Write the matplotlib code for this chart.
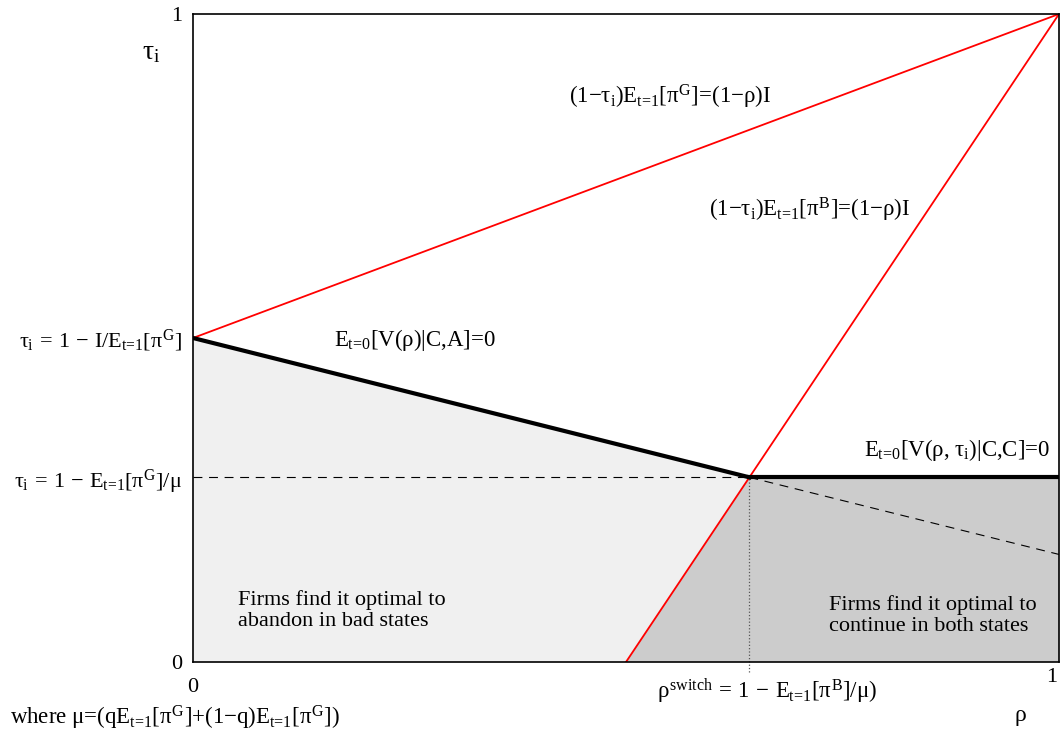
import numpy as np
import matplotlib.pyplot as plt

plt.rcParams['font.family'] = ['Liberation Serif', 'DejaVu Serif']
plt.rcParams['mathtext.fontset'] = 'custom'
plt.rcParams['mathtext.rm'] = 'Liberation Serif'
plt.rcParams['mathtext.it'] = 'Liberation Serif'
plt.rcParams['mathtext.bf'] = 'Liberation Serif:bold'

# key points of the diagram (rho, tau)
tau_a = 0.5          # tau_i = 1 - I/E[pi^G]
rho_b0 = 0.5         # where the pi^B line meets tau = 0
rho_switch = 0.6425
tau_switch = 0.285   # tau_i = 1 - E[pi^G]/mu
tau_dash_end = 0.166

line_g_x = [0, 1]
line_g_y = [tau_a, 1]
line_b_x = [rho_b0, 1]
line_b_y = [0, 1]
ca_x = [0, rho_switch]
ca_y = [tau_a, tau_switch]
cc_x = [rho_switch, 1]
cc_y = [tau_switch, tau_switch]

fig = plt.figure(figsize=(10.64, 7.4), dpi=100)
ax = fig.add_axes([0.1814, 0.1054, 0.8139, 0.8757])
ax.set_xlim(0, 1)
ax.set_ylim(0, 1)

# shaded regions
ax.fill([0, 0, rho_switch, rho_b0], [0, tau_a, tau_switch, 0], color='#f0f0f0', lw=0)
ax.fill([rho_b0, rho_switch, 1, 1], [0, tau_switch, tau_switch, 0], color='#cccccc', lw=0)

# guides
ax.plot([0, rho_switch], [tau_switch, tau_switch], color='black', lw=0.8, dashes=(8, 6))
ax.plot([rho_switch, 1], [tau_switch, tau_dash_end], color='black', lw=0.8, dashes=(8, 6))
ax.plot([rho_switch, rho_switch], [-0.016, tau_switch], color='#555555', lw=0.9, ls=':', clip_on=False)

# boundaries
ax.plot(line_g_x, line_g_y, color='red', lw=1.3)
ax.plot(line_b_x, line_b_y, color='red', lw=1.3)
ax.plot(ca_x, ca_y, color='black', lw=3)
ax.plot(cc_x, cc_y, color='black', lw=3)

for s in ax.spines.values():
    s.set_linewidth(1.2)

T1 = r'\text{t=1}'
T0 = r'\text{t=0}'

ax.set_xticks([])
ax.set_yticks([0, tau_switch, tau_a, 1])
ax.set_yticklabels(['0', r'$\tau_i\,=\,1\,-\,E_{%s}[\pi^G]/\mu$' % T1,
                    r'$\tau_i\,=\,1\,-\,I/E_{%s}[\pi^G]$' % T1, '1'], fontsize=16)
ax.tick_params(axis='y', length=0, pad=8)

fs = 16.5
ax.text(0, -0.025, '0', ha='center', va='top', fontsize=16)
ax.text(0.992, -0.01, '1', ha='center', va='top', fontsize=16)
ax.text(rho_switch + 0.02, -0.022, r'$\rho^{switch}\,=\,1\,-\,E_{%s}[\pi^B]/\mu)$' % T1,
        ha='center', va='top', fontsize=fs)
ax.text(0.955, -0.065, r'$\rho$', ha='center', va='top', fontsize=17, family='DejaVu Sans')
ax.text(-0.048, 0.94, r'$\tau_i$', ha='center', va='center', fontsize=20)
fig.text(0.009, 0.03, r'where $\mu\text{=(q}E_{%s}[\pi^G]\text{+(1−q)}E_{%s}[\pi^G]\text{)}$' % (T1, T1),
         ha='left', va='center', fontsize=fs)

ax.text(0.551, 0.872, r'$\text{(1−}\tau_i\text{)}E_{%s}[\pi^G]\text{=(1−}\rho\text{)I}$' % T1,
        ha='center', va='center', fontsize=fs)
ax.text(0.712, 0.698, r'$\text{(1−}\tau_i\text{)}E_{%s}[\pi^B]\text{=(1−}\rho\text{)I}$' % T1,
        ha='center', va='center', fontsize=fs)
ax.text(0.256, 0.497, r'$E_{%s}\text{[V(}\rho\text{)|C,A]=0}$' % T0,
        ha='center', va='center', fontsize=fs)
ax.text(0.99, 0.327, r'$E_{%s}\text{[V(}\rho\text{, }\tau_i\text{)|C,C]=0}$' % T0,
        ha='right', va='center', fontsize=fs)
ax.text(0.052, 0.08, 'Firms find it optimal to\nabandon in bad states', ha='left', va='center',
        fontsize=16, linespacing=1.15)
ax.text(0.734, 0.071, 'Firms find it optimal to\ncontinue in both states', ha='left', va='center',
        fontsize=16, linespacing=1.15)

fig.savefig('out.png', dpi=100)
